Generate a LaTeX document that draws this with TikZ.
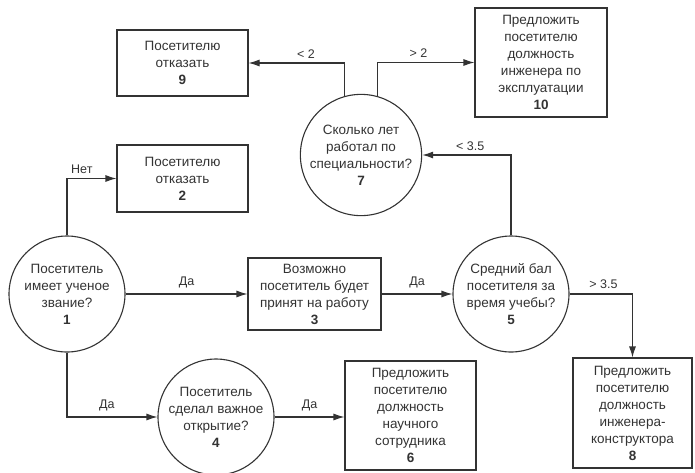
\documentclass[tikz,border=0pt]{standalone}
\usepackage{fontspec}
\setmainfont{Liberation Sans}
\usetikzlibrary{arrows.meta}
\definecolor{ink}{HTML}{333333}
\tikzset{
  base/.style={draw=ink, line width=1.1pt, text=ink, align=center, inner sep=1pt,
    font=\fontsize{13.5}{17}\selectfont},
  dec/.style={base, circle, minimum size=116pt},
  blk/.style={base, rectangle},
  arr/.style={draw=ink, line width=1.1pt, -{Latex[length=11pt,width=7pt]}},
  lbl/.style={text=ink, font=\fontsize{12.5}{14}\selectfont, inner sep=1pt}
}
\begin{document}
\begin{tikzpicture}[x=1pt,y=-1pt]
\useasboundingbox (0,0) rectangle (695,472);
% decisions
\node[dec] (c1) at (67,294) {Посетитель\\имеет ученое\\звание?\\\textbf{1}};
\node[dec] (c4) at (216,417) {Посетитель\\сделал важное\\открытие?\\\textbf{4}};
\node[dec] (c5) at (511,294) {Средний бал\\посетителя за\\время учебы?\\\textbf{5}};
\node[dec] (c7) at (361,155) {Сколько лет\\работал по\\специальности?\\\textbf{7}};
% blocks
\node[blk, minimum width=131pt, minimum height=66pt] (b9) at (182.5,63) {Посетителю\\отказать\\\textbf{9}};
\node[blk, minimum width=131pt, minimum height=67pt] (b2) at (182.5,178.5) {Посетителю\\отказать\\\textbf{2}};
\node[blk, minimum width=132pt, minimum height=109pt] (b10) at (541,62.5) {Предложить\\посетителю\\должность\\инженера по\\эксплуатации\\\textbf{10}};
\node[blk, minimum width=133pt, minimum height=72pt] (b3) at (314.5,294) {Возможно\\посетитель будет\\принят на работу\\\textbf{3}};
\node[blk, minimum width=131pt, minimum height=109pt] (b6) at (410.5,415.5) {Предложить\\посетителю\\должность\\научного\\сотрудника\\\textbf{6}};
\node[blk, minimum width=119pt, minimum height=110pt] (b8) at (632.5,413) {Предложить\\посетителю\\должность\\инженера-\\конструктора\\\textbf{8}};
% connectors
\draw[arr] (c1.north) |- (b2.west) node[lbl, pos=0.65, above=3pt] {Нет};
\draw[arr] (c1.east) -- (b3.west) node[lbl, midway, above=4pt] {Да};
\draw[arr] (c1.south) |- (c4.west) node[lbl, pos=0.72, above=4pt] {Да};
\draw[arr] (c4.east) -- (b6.west |- c4.east) node[lbl, midway, above=4pt] {Да};
\draw[arr] (b3.east) -- (c5.west) node[lbl, midway, above=4pt] {Да};
\draw[arr] (c5.north) |- (c7.east) node[lbl, pos=0.73, above=3pt] {< 3.5};
\draw[arr] (c5.east) -| (b8.north) node[lbl, pos=0.27, above=4pt] {> 3.5};
\draw[arr] (c7.106) |- (b9.east) node[lbl, pos=0.7, above=3pt] {< 2};
\draw[arr] (c7.74) |- (b10.west) node[lbl, pos=0.71, above=3pt] {> 2};
\end{tikzpicture}
\end{document}
